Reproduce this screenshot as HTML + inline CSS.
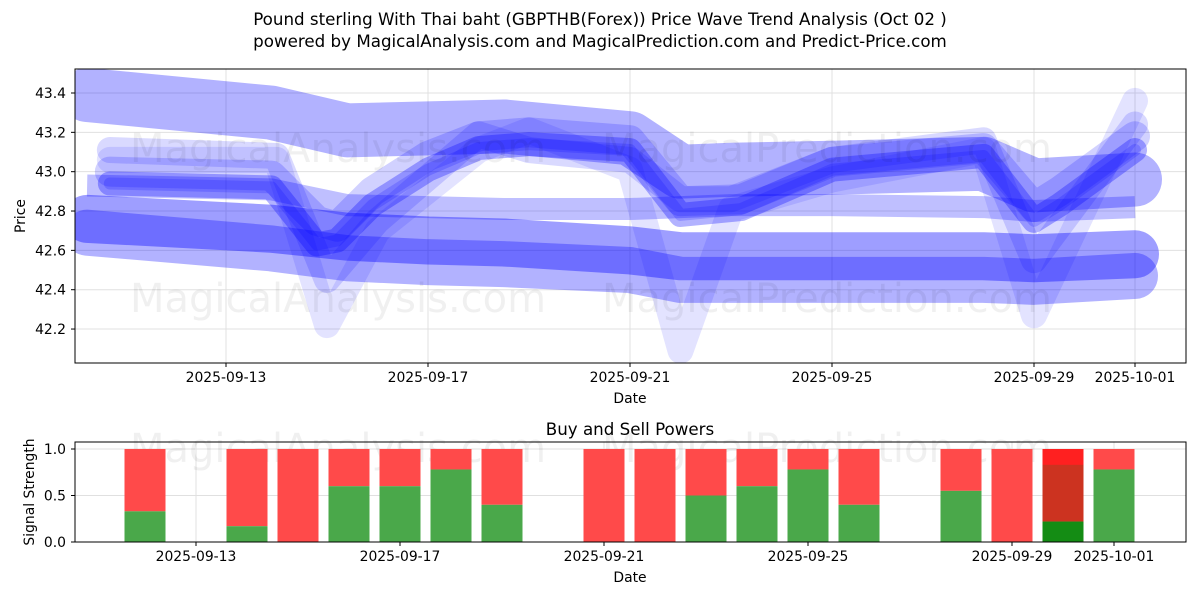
<!DOCTYPE html>
<html><head><meta charset="utf-8"><style>
body{margin:0;background:#fff;font-family:"Liberation Sans","DejaVu Sans",sans-serif}
svg text{font-family:"DejaVu Sans","Liberation Sans",sans-serif}
</style></head><body>
<svg id="c" width="1200" height="600" xmlns="http://www.w3.org/2000/svg">
<rect width="1200" height="600" fill="#fff"/>
<text x="600" y="25" font-size="16.7" text-anchor="middle">Pound sterling With Thai baht (GBPTHB(Forex)) Price Wave Trend Analysis (Oct 02 )</text>
<text x="600" y="47" font-size="16.7" text-anchor="middle">powered by MagicalAnalysis.com and MagicalPrediction.com and Predict-Price.com</text>
<defs><clipPath id="cp"><rect x="75" y="69" width="1111" height="294"/></clipPath></defs>
<g id="grid"></g>
<g id="bands" clip-path="url(#cp)"></g>
<g font-size="40" fill="#000" fill-opacity="0.06">
<text x="130" y="162">MagicalAnalysis.com</text><text x="602" y="162">MagicalPrediction.com</text>
<text x="130" y="312">MagicalAnalysis.com</text><text x="602" y="312">MagicalPrediction.com</text>
<text x="130" y="462">MagicalAnalysis.com</text><text x="602" y="462">MagicalPrediction.com</text>
</g>
<g id="bars"></g>
<rect x="75" y="69" width="1111" height="294" fill="none" stroke="#000"/>
<rect x="75" y="442" width="1111" height="100" fill="none" stroke="#000"/>
<g id="ticks" font-size="13.9"></g>
<text x="630" y="403" font-size="13.9" text-anchor="middle">Date</text>
<text x="25" y="216" font-size="13.9" text-anchor="middle" transform="rotate(-90 25 216)">Price</text>
<text x="630" y="435" font-size="16.7" text-anchor="middle">Buy and Sell Powers</text>
<text x="630" y="582" font-size="13.9" text-anchor="middle">Date</text>
<text x="34" y="492" font-size="13.9" text-anchor="middle" transform="rotate(-90 34 492)">Signal Strength</text>
</svg>
<script>
const NS="http://www.w3.org/2000/svg";
const xTickDays=[2,6,10,14,18,20];
const xTickLabels=["2025-09-13","2025-09-17","2025-09-21","2025-09-25","2025-09-29","2025-10-01"];
const yTicks=[42.2,42.4,42.6,42.8,43.0,43.2,43.4];
const sTicks=[0,0.5,1.0];
const bandDates=[-0.75,2.9,4.4,6,7.5,10,11,12,14,17,18,20];
const bandTop=[43.39,43.30,43.21,43.22,43.23,43.17,43.0,43.01,43.02,43.04,42.93,42.96];
const bandBottom=[42.76,42.71,42.67,42.65,42.64,42.60,42.57,42.57,42.57,42.57,42.56,42.58];
const bandLow=[42.69,42.61,42.56,42.54,42.53,42.50,42.45,42.45,42.45,42.45,42.44,42.47];
const bandMid=[42.93,42.91,42.83,42.82,42.81,42.81,42.82,42.83,42.83,42.82,42.80,42.82];
const waveDates=[-0.3,2.9,3.8,4.2,4.9,6,7,8,10,11,12.2,14,17,18,18.5,20];
const waveMain=[42.94,42.92,42.63,42.65,42.83,43.01,43.12,43.14,43.11,42.78,42.81,43.01,43.08,42.75,42.83,43.11];
const waveHigh=[43.0,42.98,42.75,42.72,42.9,43.08,43.18,43.2,43.16,42.85,42.86,43.05,43.12,42.82,42.9,43.18];
const spikeDates=[-0.3,3,4,5,7,8,10,11,12,14,17,18,20];
const spikeA=[43.06,43.06,42.22,42.70,43.11,43.21,43.01,42.09,42.81,42.96,43.11,42.27,43.36];
const spikeB=[43.11,43.08,42.45,42.75,43.19,43.11,43.06,42.86,42.86,43.06,43.16,42.55,43.24];
const barDays=[1,3,4,5,6,7,8,10,11,12,13,14,15,17,18,19,20];
const buyPower=[0.33,0.17,0,0.6,0.6,0.78,0.4,0,0,0.5,0.6,0.78,0.4,0.55,0,0.22,0.78];
const X=d=>125+50.5*d, Y=p=>93+(43.4-p)*196.7, S=v=>542-93*v;
const XB=d=>94+51*d;
function el(t,a,p){const e=document.createElementNS(NS,t);for(const k in a)e.setAttribute(k,a[k]);p.appendChild(e);return e;}
const grid=document.getElementById('grid'),ticks=document.getElementById('ticks');
xTickDays.forEach((d,i)=>{
 const g1=el('line',{x1:X(d),x2:X(d),y1:69,y2:363,stroke:'#e0e0e0'},grid);
 
 
 const g2=el('line',{x1:XB(d),x2:XB(d),y1:442,y2:542,stroke:'#e0e0e0'},grid);
 
 
 el('line',{x1:X(d),x2:X(d),y1:363,y2:367,stroke:'#000'},ticks);
 el('line',{x1:XB(d),x2:XB(d),y1:542,y2:546,stroke:'#000'},ticks);
 const t1=el('text',{x:X(d),y:382,'text-anchor':'middle'},ticks);t1.textContent=xTickLabels[i];
 
 
 const t2=el('text',{x:XB(d),y:561,'text-anchor':'middle'},ticks);t2.textContent=xTickLabels[i];
 
 
});
yTicks.forEach(v=>{
 const g=el('line',{x1:75,x2:1186,y1:Y(v),y2:Y(v),stroke:'#e0e0e0'},grid);
 
 
 el('line',{x1:71,x2:75,y1:Y(v),y2:Y(v),stroke:'#000'},ticks);
 const t=el('text',{x:66,y:Y(v)+5,'text-anchor':'end'},ticks);t.textContent=v.toFixed(1);
 
 
});
sTicks.forEach(v=>{
 const g=el('line',{x1:75,x2:1186,y1:S(v),y2:S(v),stroke:'#e0e0e0'},grid);
 
 
 el('line',{x1:71,x2:75,y1:S(v),y2:S(v),stroke:'#000'},ticks);
 const t=el('text',{x:66,y:S(v)+5,'text-anchor':'end'},ticks);t.textContent=v.toFixed(1);
 
 
});
const bands=document.getElementById('bands');
function band(dates,vals,w,op,name,cap){
 const pts=dates.map((d,i)=>X(d)+','+Y(vals[i])).join(' ');
 const p=el('polyline',{points:pts,fill:'none',stroke:'#0000ff','stroke-opacity':op,'stroke-width':w,'stroke-linejoin':'round','stroke-linecap':cap||'butt'},bands);
 
 
}
band(bandDates,bandTop,54,0.3,'upper-wave-band','round');
band(bandDates,bandLow,46,0.3,'lower-wave-band','round');
band(bandDates,bandBottom,48,0.38,'bottom-wave-band','round');
band(bandDates,bandMid,22,0.25,'middle-wave-band');
band(spikeDates,spikeA,26,0.11,'spike-wave-a','round');
band(spikeDates,spikeB,26,0.15,'spike-wave-b','round');
band(waveDates,waveHigh,30,0.18,'high-wave','round');
band(waveDates,waveMain,24,0.3,'main-wave','round');
band(waveDates,waveMain,12,0.18,'main-wave-core','round');
const bars=document.getElementById('bars');
barDays.forEach((d,i)=>{
 const w=41, x=XB(d)-w/2, b=buyPower[i];
 const special=(d===19);
 const r=el('rect',{x:x,y:S(1),width:w,height:S(b)-S(1),fill:special?'#ff2020':'#ff4a4a'},bars);
 
 
 if(special){
  const m=el('rect',{x:x,y:S(0.83),width:w,height:S(b)-S(0.83),fill:'#cc3320'},bars);
  
  
 }
 if(b>0){
  const g=el('rect',{x:x,y:S(b),width:w,height:S(0)-S(b),fill:special?'#148c14':'#4aa84a'},bars);
  
  
 }
});
</script>
</body></html>
